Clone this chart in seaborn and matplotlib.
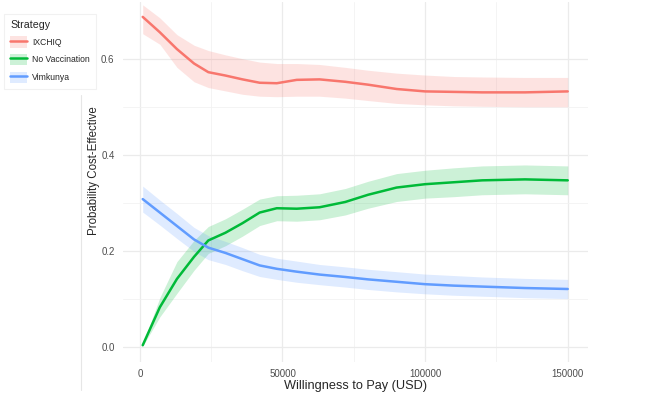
import seaborn as sns
import matplotlib.pyplot as plt
import numpy as np
import pandas as pd
from matplotlib.lines import Line2D
from matplotlib.patches import Patch

# willingness to pay grid (USD)
wtp = [1000, 7000, 13000, 19000, 24000, 30000, 36000, 42000, 48000, 55000,
       63000, 72000, 80000, 90000, 100000, 110000, 120000, 135000, 150000]

ixchiq = [0.687, 0.655, 0.620, 0.590, 0.572, 0.565, 0.557, 0.550, 0.549, 0.556,
          0.557, 0.552, 0.546, 0.537, 0.532, 0.531, 0.530, 0.530, 0.532]
ixchiq_lo = [0.652, 0.630, 0.582, 0.552, 0.540, 0.533, 0.526, 0.522, 0.521, 0.522,
             0.522, 0.518, 0.513, 0.507, 0.504, 0.502, 0.501, 0.500, 0.500]
ixchiq_hi = [0.712, 0.685, 0.650, 0.628, 0.617, 0.608, 0.600, 0.593, 0.590, 0.590,
             0.588, 0.582, 0.576, 0.570, 0.566, 0.563, 0.562, 0.561, 0.561]

novacc = [0.004, 0.083, 0.142, 0.188, 0.222, 0.238, 0.258, 0.280, 0.289, 0.288,
          0.291, 0.302, 0.317, 0.332, 0.339, 0.343, 0.347, 0.349, 0.347]
novacc_lo = [0.002, 0.063, 0.112, 0.160, 0.195, 0.211, 0.231, 0.253, 0.263, 0.262,
             0.265, 0.275, 0.289, 0.303, 0.310, 0.313, 0.317, 0.319, 0.317]
novacc_hi = [0.006, 0.103, 0.178, 0.222, 0.251, 0.267, 0.287, 0.308, 0.315, 0.316,
             0.319, 0.330, 0.345, 0.361, 0.368, 0.373, 0.377, 0.379, 0.377]

vimkunya = [0.308, 0.280, 0.252, 0.224, 0.207, 0.196, 0.183, 0.170, 0.163, 0.157,
            0.151, 0.146, 0.141, 0.136, 0.131, 0.128, 0.126, 0.123, 0.121]
vimkunya_lo = [0.281, 0.254, 0.226, 0.199, 0.182, 0.172, 0.159, 0.147, 0.141, 0.135,
               0.130, 0.125, 0.120, 0.115, 0.111, 0.108, 0.106, 0.103, 0.101]
vimkunya_hi = [0.335, 0.306, 0.278, 0.249, 0.232, 0.220, 0.207, 0.193, 0.185, 0.179,
               0.172, 0.167, 0.162, 0.157, 0.152, 0.149, 0.146, 0.143, 0.141]

strategies = ['IXCHIQ', 'No Vaccination', 'Vimkunya']
colors = ['#F8766D', '#00BA38', '#619CFF']

df = pd.DataFrame({
    'wtp': wtp * 3,
    'prob': ixchiq + novacc + vimkunya,
    'Strategy': np.repeat(strategies, len(wtp)),
})
bands = {
    'IXCHIQ': (ixchiq_lo, ixchiq_hi),
    'No Vaccination': (novacc_lo, novacc_hi),
    'Vimkunya': (vimkunya_lo, vimkunya_hi),
}

sns.set_style('white')
plt.rcParams['font.family'] = ['Liberation Sans', 'DejaVu Sans']

fig = plt.figure(figsize=(6.5, 3.97), dpi=100)
ax = fig.add_axes([0.189, 0.088, 0.716, 0.907])

for s, c in zip(strategies, colors):
    lo, hi = bands[s]
    ax.fill_between(wtp, lo, hi, color=c, alpha=0.2, linewidth=0)

sns.lineplot(data=df, x='wtp', y='prob', hue='Strategy', palette=colors,
             linewidth=1.8, ax=ax, legend=False)

ax.set_xlim(-5965, 157190)
ax.set_ylim(-0.031, 0.718)
ax.set_xticks([0, 50000, 100000, 150000])
ax.set_xticklabels(['0', '50000', '100000', '150000'])
ax.set_yticks([0.0, 0.2, 0.4, 0.6])
ax.set_yticklabels(['0.0', '0.2', '0.4', '0.6'])
ax.set_xticks([25000, 75000, 125000], minor=True)
ax.set_yticks([0.1, 0.3, 0.5], minor=True)
ax.grid(True, which='major', color='#EBEBEB', linewidth=0.9)
ax.grid(True, which='minor', color='#F2F2F2', linewidth=0.6)
ax.set_axisbelow(True)
for sp in ax.spines.values():
    sp.set_visible(False)
ax.tick_params(axis='both', which='both', length=0, labelsize=7, labelcolor='#4D4D4D')
ax.tick_params(axis='x', pad=5)
ax.tick_params(axis='y', pad=6)

ax.set_xlabel('Willingness to Pay (USD)', fontsize=9.2, labelpad=1)
ax.set_ylabel('Probability Cost-Effective', fontsize=8.3)
ax.yaxis.set_label_coords(-0.05, 0.533)

# faint edge left over from the pasted legend panel
fig.add_artist(Line2D([81 / 650, 81 / 650], [1 - 95 / 397, 1 - 390 / 397],
                      transform=fig.transFigure, color='#E6E6E6', linewidth=0.8))

handles = [(Patch(facecolor=c, alpha=0.2, edgecolor='none'),
            Line2D([], [], color=c, linewidth=1.8)) for c in colors]
leg = fig.legend(handles, strategies, title='Strategy', loc='upper left',
                 bbox_to_anchor=(4 / 650, 1 - 14 / 397), fontsize=6.2,
                 title_fontsize=7.7, frameon=True, fancybox=False,
                 handlelength=2.0, handleheight=1.6, labelspacing=0.75,
                 borderpad=0.7, handletextpad=0.6, borderaxespad=0)
leg._legend_box.align = 'left'
leg.get_frame().set_edgecolor('#EEEEEE')
leg.get_frame().set_linewidth(0.8)

fig.savefig('out.png', dpi=100)
